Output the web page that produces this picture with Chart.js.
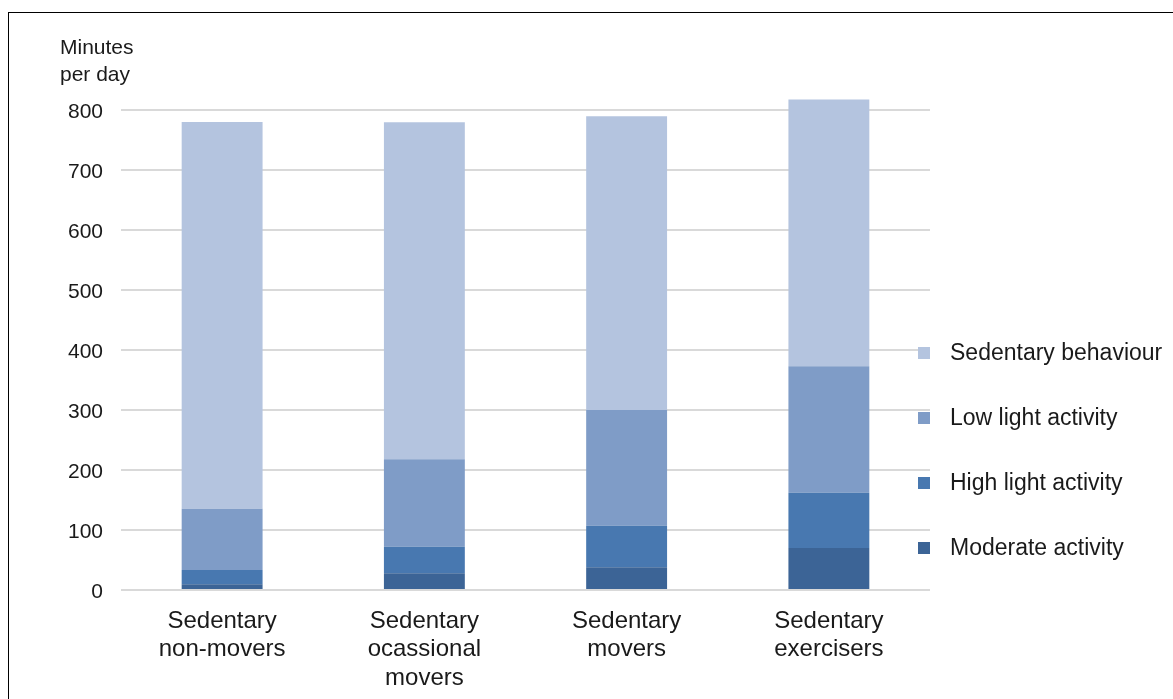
<!DOCTYPE html>
<html>
<head>
<meta charset="utf-8">
<title>Minutes per day by activity profile</title>
<script src="https://cdn.jsdelivr.net/npm/chart.js@4.4.1/dist/chart.umd.min.js"></script>
<style>
  html, body { margin: 0; padding: 0; background: #fff; }
  #wrap { position: relative; width: 1173px; height: 699px; overflow: hidden; }
  #frame {
    position: absolute; left: 8px; top: 12px; right: 0; bottom: 0;
    border-top: 1.5px solid #000; border-left: 1.5px solid #000;
    pointer-events: none;
  }
</style>
</head>
<body>
<div id="wrap">
  <canvas id="c" width="1173" height="699"></canvas>
  <div id="frame"></div>
</div>
<script>
// Groups along the x axis
const categories = [
  ['Sedentary', 'non-movers'],
  ['Sedentary', 'ocassional', 'movers'],
  ['Sedentary', 'movers'],
  ['Sedentary', 'exercisers']
];

// Minutes per day in each activity band (stacked bottom to top)
const moderateActivity   = [9.5, 28, 38, 70];
const highLightActivity  = [24, 44, 69, 92];
const lowLightActivity   = [102, 146, 193, 211];
const sedentaryBehaviour = [645, 562, 490, 445];

const seriesNames = ['Moderate activity', 'High light activity', 'Low light activity', 'Sedentary behaviour'];
const seriesColors = ['#3C6496', '#4878B0', '#7F9CC7', '#B4C4DF'];

// Y axis range and step
const yMin = 0;
const yMax = 800;
const yStep = 100;

const FONT = '"Liberation Sans", Arial, Helvetica, sans-serif';
const TEXT = '#1a1a1a';

// Legend drawn in the right margin, top entry = top of the stack
const sideLegend = {
  id: 'sideLegend',
  afterDraw(chart) {
    const { ctx, chartArea } = chart;
    const ds = chart.data.datasets;
    ctx.save();
    ctx.font = '23px ' + FONT;
    ctx.textBaseline = 'middle';
    ctx.textAlign = 'left';
    const rowGap = 65;
    const firstY = chartArea.bottom - 237;
    for (let i = 0; i < ds.length; i++) {
      const d = ds[ds.length - 1 - i];
      const y = firstY + i * rowGap;
      ctx.fillStyle = d.backgroundColor;
      ctx.fillRect(chartArea.right - 12, y - 6, 12, 12);
      ctx.fillStyle = TEXT;
      ctx.fillText(d.label, chartArea.right + 20, y + 1);
    }
    ctx.restore();
  }
};

const seriesData = [moderateActivity, highLightActivity, lowLightActivity, sedentaryBehaviour];

new Chart(document.getElementById('c'), {
  type: 'bar',
  data: {
    labels: categories,
    datasets: seriesData.map((values, i) => ({
      label: seriesNames[i],
      data: values,
      backgroundColor: seriesColors[i],
      borderWidth: 0,
      categoryPercentage: 0.4,
      barPercentage: 1.0,
      clip: false
    }))
  },
  options: {
    responsive: false,
    animation: false,
    devicePixelRatio: 1,
    layout: { padding: { left: 60, right: 243, top: 0, bottom: 0 } },
    plugins: {
      legend: { display: false },
      tooltip: { enabled: false },
      title: {
        display: true,
        text: ['Minutes', 'per day'],
        align: 'start',
        color: TEXT,
        font: { family: FONT, size: 21, weight: 'normal', lineHeight: 1.29 },
        padding: { top: 35, bottom: 21 }
      }
    },
    scales: {
      x: {
        stacked: true,
        grid: { display: false, drawTicks: false },
        border: { display: false },
        ticks: {
          color: TEXT,
          padding: 17,
          maxRotation: 0,
          autoSkip: false,
          font: { family: FONT, size: 24, lineHeight: 1.19 }
        },
        afterFit(scale) { scale.height = 109; }
      },
      y: {
        stacked: true,
        min: yMin,
        max: yMax,
        grid: { color: '#D9D9D9', lineWidth: 2, drawTicks: false },
        border: { display: false },
        ticks: {
          stepSize: yStep,
          color: TEXT,
          padding: 18,
          labelOffset: 2,
          font: { family: FONT, size: 21 }
        },
        afterFit(scale) { scale.width = 61; }
      }
    }
  },
  plugins: [sideLegend]
});
</script>
</body>
</html>
